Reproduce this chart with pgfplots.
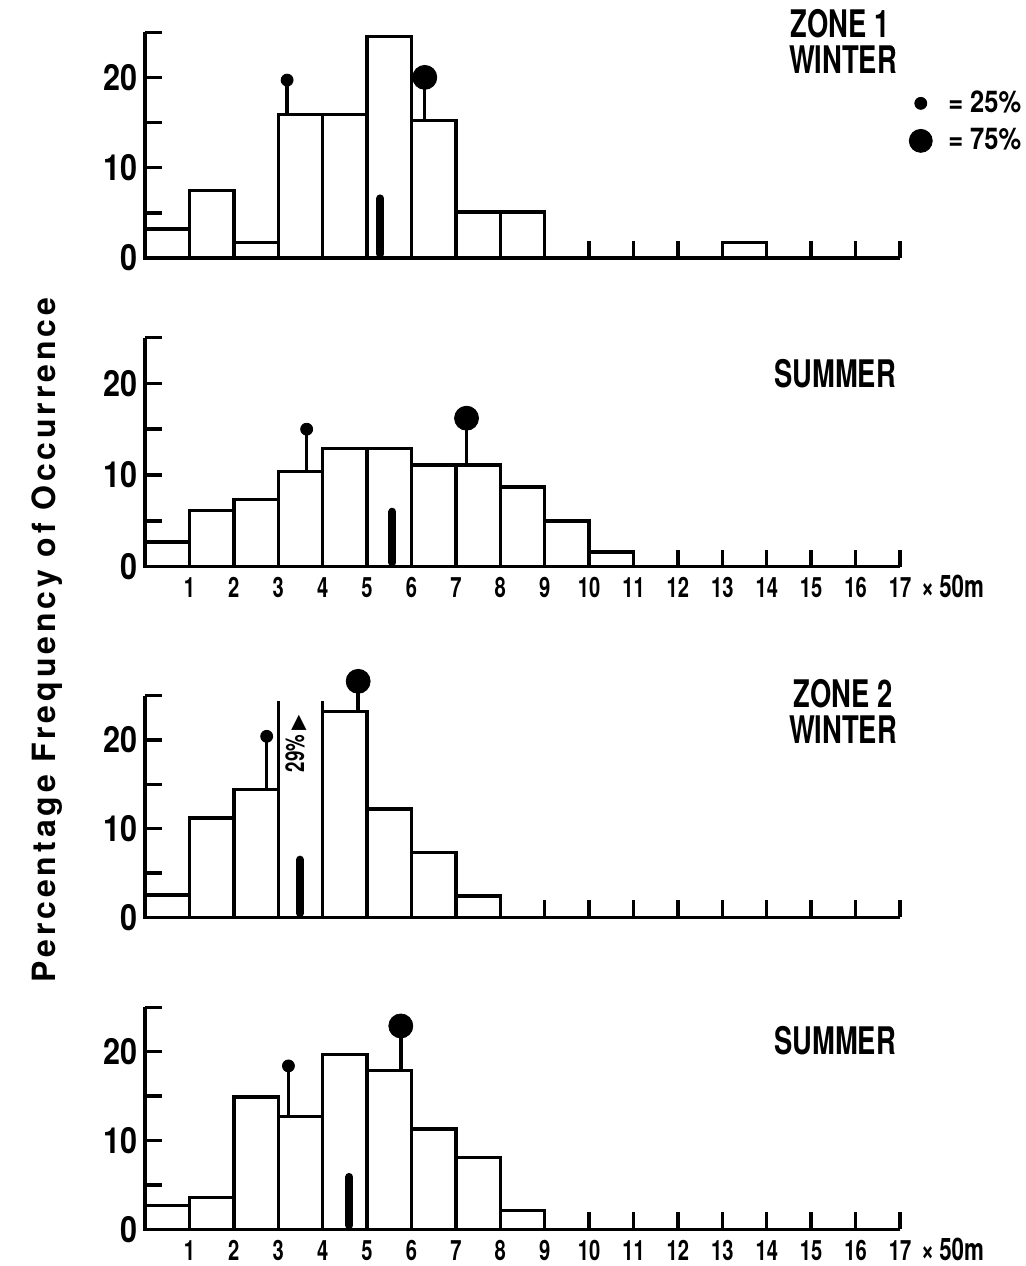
\documentclass[border=0pt]{standalone}
\usepackage{pgfplots}
\pgfplotsset{compat=1.18}
\usepackage{fontspec}
\setmainfont{TeX Gyre Heros}
\newfontfamily\cnd{TeX Gyre Heros}[FakeStretch=0.72]
\newfontfamily\ytk{TeX Gyre Heros}[FakeStretch=0.85]
\newfontfamily\ylab{TeX Gyre Heros}[LetterSpace=12]
\newfontfamily\djv{DejaVu Sans}

\pgfplotsset{
  panel/.style={
    scale only axis, width=377.5pt, anchor=south west,
    xmin=0, xmax=17, ymin=0, ymax=25,
    axis lines=left, axis line style={-, line width=1.7pt},
    axis on top, clip=false,
    xtick={1,...,17}, ytick={0,5,...,25}, yticklabels={0,,10,,20,},
    tick align=inside, major tick length=8.5pt,
    every tick/.style={black, line width=1.7pt},
    /pgf/number format/assume math mode=true,
    yticklabel style={font=\ytk\bfseries\fontsize{18}{18}\selectfont},
    xticklabel style={font=\cnd\bfseries\fontsize{14}{14}\selectfont, anchor=base, yshift=-15.5pt},
  },
  hist/.style={ybar interval, fill=white, draw=black, line width=1.7pt},
  stem/.style={black, line width=1.7pt},
  q25/.style={only marks, mark=*, mark size=3pt, black},
  q75/.style={only marks, mark=*, mark size=6pt, black},
  med/.style={black, line width=4pt, line cap=round},
}

\begin{document}
\begin{tikzpicture}
\useasboundingbox (0,0) rectangle (513pt,-633pt);

% zone 1 winter
\begin{axis}[panel, at={(72.5pt,-129pt)}, height=112.9pt, xticklabels={},
  legend style={at={(axis cs:17.2,19.2)}, anchor=north west, draw=none, fill=none,
    inner sep=0pt, row sep=0.5pt, font=\ytk\bfseries\fontsize{15}{15}\selectfont,
    nodes={inner sep=3pt}},
  legend cell align=left]
\addlegendimage{q25}\addlegendentry{\hspace{5pt}= 25\%}
\addlegendimage{only marks, mark=*, mark size=5.75pt, black}\addlegendentry{\hspace{5pt}= 75\%}
\addplot[hist] coordinates {(0,3.2)(1,7.5)(2,1.7)(3,15.9)(4,15.9)(5,24.5)(6,15.2)(7,5.1)(8,5.1)(9,0)(10,0)(11,0)(12,0)(13,1.7)(14,0)};
\addplot[med] coordinates {(5.3,0.45)(5.3,6.6)};
\addplot[stem] coordinates {(3.2,15.9)(3.2,19.7)};
\addplot[q25] coordinates {(3.2,19.7)};
\addplot[stem] coordinates {(6.3,15.2)(6.3,20.0)};
\addplot[q75] coordinates {(6.3,20.0)};
\end{axis}

% zone 1 summer
\begin{axis}[panel, at={(72.5pt,-283.35pt)}, height=114.6pt]
\addplot[hist] coordinates {(0,2.7)(1,6.1)(2,7.3)(3,10.4)(4,12.9)(5,12.9)(6,11.1)(7,11.1)(8,8.7)(9,5.0)(10,1.6)(11,0)};
\addplot[med] coordinates {(5.57,0.45)(5.57,6.0)};
\addplot[stem] coordinates {(3.64,10.4)(3.64,15.0)};
\addplot[q25] coordinates {(3.64,15.0)};
\addplot[stem] coordinates {(7.24,11.1)(7.24,16.2)};
\addplot[q75] coordinates {(7.24,16.2)};
\node[anchor=base west, font=\cnd\bfseries\fontsize{15.5}{15.5}\selectfont, xshift=7pt, yshift=-15.5pt] at (axis cs:17,0) {×\,50m};
\end{axis}

% zone 2 winter
\begin{axis}[panel, at={(72.5pt,-458.65pt)}, height=110.9pt, xticklabels={}]
\addplot[hist] coordinates {(0,2.5)(1,11.2)(2,14.4)(3,0)(4,23.2)(5,12.2)(6,7.3)(7,2.4)(8,0)};
\addplot[stem] coordinates {(3,0)(3,24.4)};
\addplot[stem] coordinates {(4,0)(4,24.4)};
\addplot[med] coordinates {(3.49,0.45)(3.49,6.5)};
\addplot[stem] coordinates {(2.74,14.4)(2.74,20.4)};
\addplot[q25] coordinates {(2.74,20.4)};
\addplot[stem] coordinates {(4.8,23.2)(4.8,26.6)};
\addplot[q75] coordinates {(4.8,26.6)};
\node[rotate=90, font=\cnd\bfseries\fontsize{13}{13}\selectfont] at (axis cs:3.4,19.6) {29\%\,{\djv\fontsize{10}{10}\selectfont ▶}};
\end{axis}

% zone 2 summer
\begin{axis}[panel, at={(72.5pt,-614.65pt)}, height=111pt]
\addplot[hist] coordinates {(0,2.7)(1,3.6)(2,14.9)(3,12.7)(4,19.7)(5,17.9)(6,11.3)(7,8.1)(8,2.1)(9,0)};
\addplot[med] coordinates {(4.6,0.45)(4.6,5.9)};
\addplot[stem] coordinates {(3.23,12.7)(3.23,18.4)};
\addplot[q25] coordinates {(3.23,18.4)};
\addplot[stem] coordinates {(5.76,17.9)(5.76,22.9)};
\addplot[q75] coordinates {(5.76,22.9)};
\node[anchor=base west, font=\cnd\bfseries\fontsize{15.5}{15.5}\selectfont, xshift=7pt, yshift=-15.5pt] at (axis cs:17,0) {×\,50m};
\end{axis}

\begin{scope}[every node/.style={font=\cnd\bfseries\fontsize{19}{19}\selectfont, inner sep=0pt}]
\node at (420pt,-12pt) {ZONE 1};
\node at (421.5pt,-30pt) {WINTER};
\node at (417.5pt,-187pt) {SUMMER};
\node at (421.5pt,-347pt) {ZONE 2};
\node at (421.5pt,-365pt) {WINTER};
\node at (417.5pt,-520.5pt) {SUMMER};
\end{scope}
\node[rotate=90, anchor=base, font=\ylab\bfseries\fontsize{16}{16}\selectfont] at (27.5pt,-320pt) {Percentage Frequency of Occurrence};
\end{tikzpicture}
\end{document}
